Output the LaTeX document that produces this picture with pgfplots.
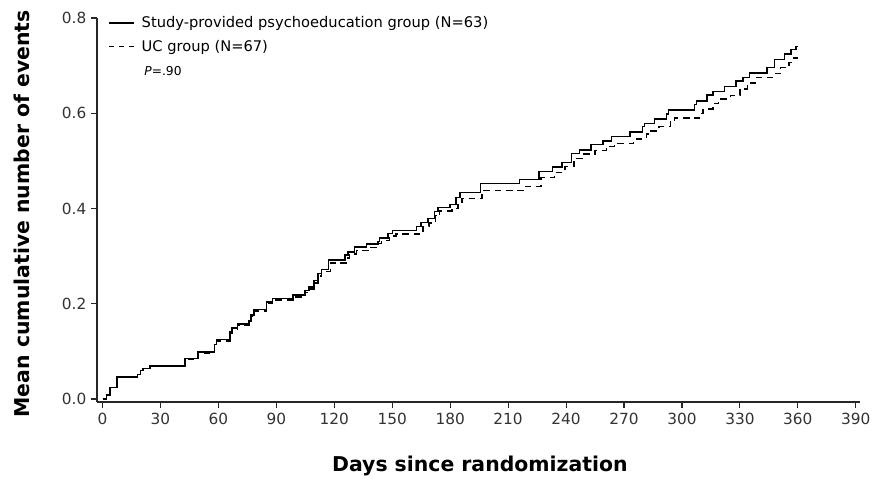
\documentclass[border=0pt]{standalone}
\usepackage{pgfplots}
\pgfplotsset{compat=1.18}
\usepackage{fontspec}
\setmainfont{DejaVu Sans}
\begin{document}
\begin{tikzpicture}
\begin{axis}[
  scale only axis, width=572pt, height=288pt,
  xmin=-2.85, xmax=392, ymin=-0.0063, ymax=0.8,
  axis x line*=bottom, axis y line*=left,
  axis line style={line width=0.8pt, black!85},
  xtick={0,30,...,390}, ytick={0,0.2,0.4,0.6,0.8},
  yticklabel style={/pgf/number format/.cd, fixed, fixed zerofill, precision=1},
  /pgf/number format/assume math mode=true,
  tick align=outside, major tick length=4.5pt,
  tick style={line width=0.8pt, black!85},
  ticklabel style={font=\fontsize{11.5}{13}\selectfont, text=black!80},
  xlabel={\textbf{Days since randomization}},
  ylabel={\textbf{Mean cumulative number of events}},
  label style={font=\fontsize{15.3}{17}\selectfont},
  xlabel style={at={(axis description cs:0.502,-0.167)}, anchor=center},
  ylabel style={at={(axis description cs:-0.098,0.49)}, anchor=center},
  legend style={at={(axis description cs:0.0144,1.012)}, anchor=north west, draw=none, fill=none,
    font=\fontsize{11}{13}\selectfont, row sep=4pt, inner sep=0pt, cells={anchor=west}},
  legend image code/.code={\draw[#1] (0pt,0pt) -- (18.75pt,0pt); \path (22pt,0pt);},
  clip=false,
]
\addplot[const plot, line width=1.1pt, black] coordinates {
(0,0) (2,0.008) (4,0.024) (7.5,0.046) (18,0.052) (19.7,0.060) (21,0.064) (24.6,0.069)
(42.7,0.085) (49.5,0.099) (58,0.115) (59,0.125) (66,0.141) (67,0.149) (70,0.157)
(75.8,0.164) (77,0.176) (78.4,0.188) (85,0.204) (88,0.211) (98.6,0.218) (104.8,0.228)
(107,0.235) (109.6,0.249) (111.6,0.263) (113.3,0.272) (117,0.292) (125.5,0.302)
(127,0.309) (130.6,0.319) (136.7,0.325) (142.6,0.331) (143.5,0.338) (147.7,0.347)
(150,0.354) (162.5,0.362) (165,0.371) (168.5,0.379) (172,0.394) (173.6,0.402)
(179.8,0.408) (183,0.423) (185,0.434) (195.8,0.453) (216,0.461) (226,0.478)
(233,0.487) (238,0.497) (242.7,0.515) (247,0.523) (253,0.534) (259,0.542)
(263.4,0.551) (273,0.561) (279.5,0.572) (280.5,0.579) (285.8,0.588) (291.9,0.598)
(293,0.607) (306.5,0.618) (307.5,0.626) (313,0.638) (316,0.646) (322,0.656)
(328,0.668) (331.5,0.675) (335,0.685) (344,0.696) (348,0.713) (353,0.724)
(356.5,0.734) (359,0.740) (360,0.740)
};
\addlegendentry{Study-provided psychoeducation group (N=63)}
\addplot[const plot, line width=1.1pt, black, dash pattern=on 5pt off 3.5pt,
  legend image code/.code={\draw[black, line width=1.1pt, dash pattern=on 4pt off 3.375pt] (0pt,0pt) -- (18.75pt,0pt); \path (22pt,0pt);}] coordinates {
(0,0) (2,0.008) (4,0.024) (7.5,0.046) (18,0.052) (19.7,0.060) (21,0.064) (24.6,0.069)
(42.7,0.083) (49.5,0.097) (58,0.112) (59,0.122) (66,0.138) (67,0.146) (70,0.154)
(75.8,0.162) (77,0.173) (78.4,0.185) (85,0.200) (88,0.208) (98.6,0.214) (104.8,0.224)
(107,0.231) (109.6,0.244) (111.6,0.258) (113.3,0.268) (118,0.286) (126,0.296)
(128,0.304) (131.5,0.312) (138,0.318) (143,0.326) (144.5,0.333) (148.5,0.342)
(152,0.346) (164,0.352) (166,0.362) (169,0.370) (172.5,0.385) (174.5,0.395)
(181,0.400) (184,0.414) (186,0.421) (196.5,0.438) (218,0.446) (227,0.465)
(234,0.476) (239.5,0.488) (244,0.505) (248.5,0.514) (255,0.522) (261,0.530)
(265,0.537) (275,0.546) (281.5,0.556) (283,0.563) (288,0.572) (294,0.582)
(296,0.590) (309,0.600) (311,0.609) (316,0.620) (319,0.630) (325,0.637)
(330,0.651) (334,0.664) (338,0.675) (347,0.683) (351,0.696) (355.5,0.707)
(358,0.716) (360,0.716)
};
\addlegendentry{UC group (N=67)}
\node[anchor=base west, font=\fontsize{9.2}{11}\selectfont] at (axis description cs:0.056,0.851) {\textit{P}=.90};
\end{axis}
\pgfresetboundingbox
\path (current axis.south west) ++(-72.75pt,-58.5pt) rectangle ++(654pt,360pt);
\end{tikzpicture}
\end{document}
